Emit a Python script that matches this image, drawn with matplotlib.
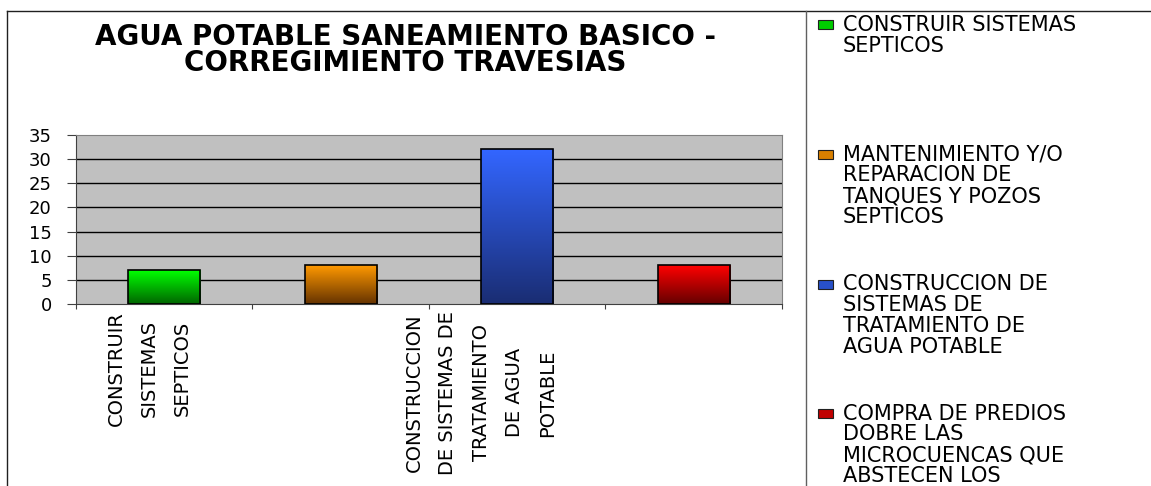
import numpy as np
import matplotlib
matplotlib.use("Agg")
import matplotlib.pyplot as plt
from matplotlib.colors import LinearSegmentedColormap
from matplotlib.patches import Rectangle
from matplotlib.lines import Line2D
import matplotlib.transforms as mtransforms

plt.rcParams['font.family'] = ['DejaVu Sans']

# data
values = [7, 8, 32, 8]
tick_labels = ["CONSTRUIR\nSISTEMAS\nSEPTICOS", "",
               "CONSTRUCCION\nDE SISTEMAS DE\nTRATAMIENTO\nDE AGUA\nPOTABLE", ""]
legend_labels = ["CONSTRUIR SISTEMAS\nSEPTICOS",
                 "MANTENIMIENTO Y/O\nREPARACION DE\nTANQUES Y POZOS\nSEPTICOS",
                 "CONSTRUCCION DE\nSISTEMAS DE\nTRATAMIENTO DE\nAGUA POTABLE",
                 "COMPRA DE PREDIOS\nDOBRE LAS\nMICROCUENCAS QUE\nABSTECEN LOS"]
top_colors = ["#00FF00", "#FF9900", "#3366FF", "#FF0000"]
bottom_colors = ["#006600", "#663300", "#1A2D73", "#660000"]
legend_colors = ["#00CC00", "#D98000", "#2850C8", "#C00000"]
yticks = [0, 5, 10, 15, 20, 25, 30, 35]

fig = plt.figure(figsize=(11.51, 4.86), dpi=100)
ax = fig.add_axes([0.066, 0.3745, 0.6134, 0.3477])
ax.set_facecolor("#C0C0C0")

x = np.arange(len(values))
bars = ax.bar(x, values, width=0.41, color="none", edgecolor="black", linewidth=1.2, zorder=3)
for b, c1, c2 in zip(bars, top_colors, bottom_colors):
    cmap = LinearSegmentedColormap.from_list("g", [c2, c1])
    grad = np.linspace(0, 1, 100).reshape(-1, 1)
    im = ax.imshow(grad, cmap=cmap, aspect="auto", origin="lower",
                   extent=[b.get_x(), b.get_x() + b.get_width(), 0, b.get_height()], zorder=2)
    im.set_clip_path(b)

ax.set_xlim(-0.5, 3.5)
ax.set_ylim(0, 35)
ax.set_yticks(yticks)
ax.set_yticklabels([str(v) for v in yticks], fontsize=13)
ax.yaxis.grid(True, color="black", linewidth=1)
ax.set_axisbelow(True)
gl = ax.get_ygridlines()
gl[0].set_visible(False)
gl[-1].set_visible(False)

ax.set_xticks([-0.5, 0.5, 1.5, 2.5, 3.5])
ax.set_xticklabels([])
ax.set_xticks(x, minor=True)
ax.set_xticklabels(tick_labels, minor=True, rotation=90, fontsize=14,
                   va="top", ha="center", multialignment="center", linespacing=1.95)
ax.tick_params(axis="x", which="minor", length=0, pad=5)
ax.tick_params(axis="x", which="major", length=3.6, direction="out", color="#404040")
ax.tick_params(axis="y", length=6.5, direction="out", color="#404040", pad=11)

shifts = [-15, 0, -36, 0]
for lab, s in zip(ax.xaxis.get_minorticklabels(), shifts):
    lab.set_transform(lab.get_transform() + mtransforms.ScaledTranslation(s / 100, 0, fig.dpi_scale_trans))

for side in ["top", "right"]:
    ax.spines[side].set_color("#808080")
for side in ["left", "bottom"]:
    ax.spines[side].set_color("#404040")

fig.text(0.352, 1 - 50 / 486, "AGUA POTABLE SANEAMIENTO BASICO -\nCORREGIMIENTO TRAVESIAS",
         ha="center", va="center", fontsize=20, fontweight="bold", linespacing=0.95)

# outer frame lines
fig.add_artist(Line2D([7 / 1151, 1], [1 - 11 / 486, 1 - 11 / 486], color="#202020", lw=1))
fig.add_artist(Line2D([7 / 1151, 7 / 1151], [0, 1 - 11 / 486], color="#202020", lw=1))
fig.add_artist(Line2D([806 / 1151, 806 / 1151], [0, 1 - 11 / 486], color="#606060", lw=1))

# legend
for i, (lab, c) in enumerate(zip(legend_labels, legend_colors)):
    ytop = 25 + i * 129.5
    fig.add_artist(Rectangle((818 / 1151, 1 - (ytop + 4.5) / 486), 15 / 1151, 9 / 486,
                             facecolor=c, edgecolor="#202020", lw=0.8))
    fig.text(843 / 1151, 1 - (ytop - 10) / 486, lab, ha="left", va="top",
             fontsize=15, linespacing=1.06)

fig.savefig("out.png", dpi=100)
